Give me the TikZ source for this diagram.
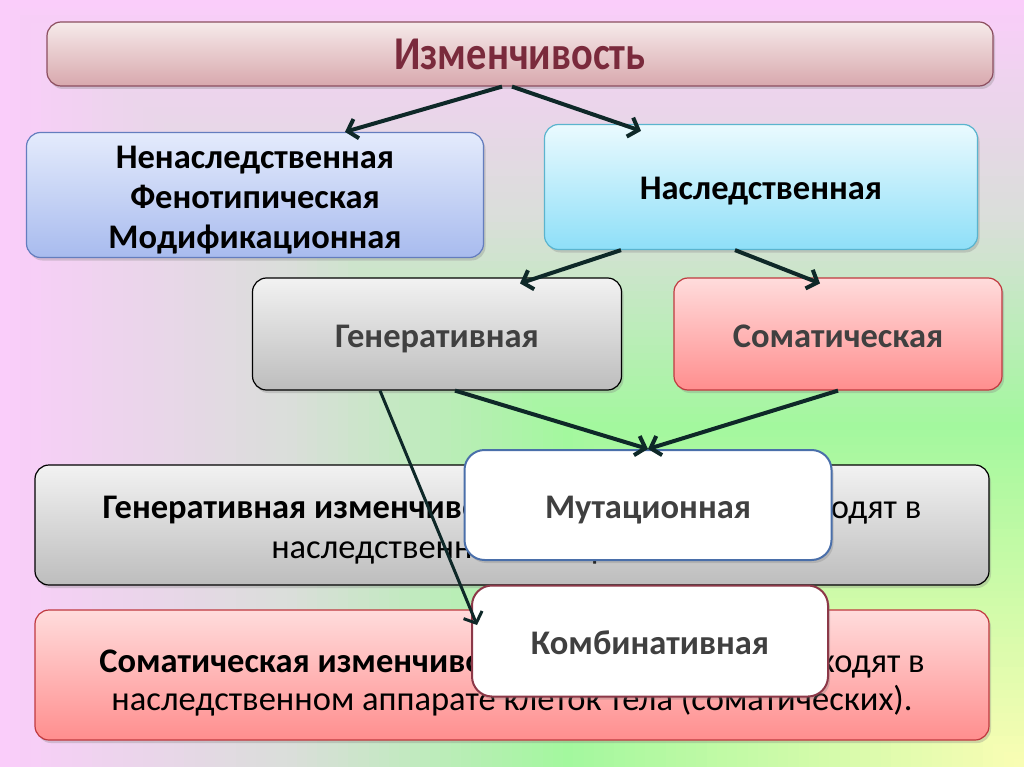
\documentclass[tikz,border=0pt]{standalone}
\usepackage{fontspec}
\setmainfont{Carlito}
\usetikzlibrary{arrows.meta,shadows}

\definecolor{bgpink}{RGB}{250,205,250}
\definecolor{bggray}{RGB}{218,222,218}
\definecolor{bggreen}{RGB}{163,248,158}
\definecolor{bgyellow}{RGB}{250,253,180}
\definecolor{titletop}{RGB}{246,234,234}
\definecolor{titlebot}{RGB}{216,168,173}
\definecolor{titledraw}{RGB}{140,78,95}
\definecolor{titletext}{RGB}{122,42,60}
\definecolor{bluetop}{RGB}{228,235,252}
\definecolor{bluebot}{RGB}{168,187,238}
\definecolor{bluedraw}{RGB}{100,125,190}
\definecolor{cyantop}{RGB}{234,250,254}
\definecolor{cyanbot}{RGB}{142,223,248}
\definecolor{cyandraw}{RGB}{90,180,206}
\definecolor{graytop}{RGB}{242,242,242}
\definecolor{graybot}{RGB}{189,189,189}
\definecolor{redtop}{RGB}{255,220,220}
\definecolor{redbot}{RGB}{255,142,142}
\definecolor{reddraw}{RGB}{192,57,63}
\definecolor{mutdraw}{RGB}{74,111,170}
\definecolor{combdraw}{RGB}{140,56,72}
\definecolor{arrowc}{RGB}{14,40,40}
\definecolor{textgray}{RGB}{64,64,64}

\begin{document}
\begin{tikzpicture}[x=1pt, y=-1pt,
    box/.style = {draw, rounded corners=14pt, line width=1.2pt, inner sep=0pt, align=center,
        drop shadow={opacity=.3, shadow xshift=2pt, shadow yshift=-3pt}},
    lbl/.style = {font=\fontsize{34.5}{40}\selectfont\bfseries},
    one/.style = {text height=26pt, text depth=0pt},
    conn/.style = {draw=arrowc, line width=4pt, -{Straight Barb[length=9pt, width=20pt]}}]
    \useasboundingbox (0,0) rectangle (1024,767);
    % background, from the bottom right corner
    \foreach \i in {100,99,...,1}{
        \pgfmathsetmacro\s{\i/100}
        \ifnum\i>72
            \pgfmathtruncatemacro\p{(\i-72)*100/28}\colorlet{bgc}{bgpink!\p!bggray}
        \else\ifnum\i>45
            \pgfmathtruncatemacro\p{(\i-45)*100/27}\colorlet{bgc}{bggray!\p!bggreen}
        \else
            \pgfmathtruncatemacro\p{\i*100/45}\colorlet{bgc}{bggreen!\p!bgyellow}
        \fi\fi
        \fill[bgc] ({1024*(1-\s)},{767*(1-\s)}) rectangle (1024,767);
    }

    \node[box, draw=titledraw, top color=titletop, bottom color=titlebot,
        minimum width=946pt, minimum height=64pt] (title) at (520,54)
        {\fontsize{47}{47}\selectfont\bfseries\addfontfeature{FakeStretch=0.86}\color{titletext}Изменчивость};
    \node[box, lbl, draw=bluedraw, top color=bluetop, bottom color=bluebot,
        minimum width=457pt, minimum height=125pt] (nonher) at (255,195)
        {\rule{0pt}{32pt}Ненаследственная\\Фенотипическая\\Модификационная};
    \node[box, lbl, one, draw=cyandraw, top color=cyantop, bottom color=cyanbot,
        minimum width=433pt, minimum height=125pt] (her) at (761,187) {Наследственная};
    \node[box, lbl, one, text=textgray, top color=graytop, bottom color=graybot,
        minimum width=369pt, minimum height=112pt] (gen) at (437,334) {Генеративная};
    \node[box, lbl, one, text=textgray, draw=reddraw, top color=redtop, bottom color=redbot,
        minimum width=328pt, minimum height=112pt] (som) at (838,334) {Соматическая};

    \node[box, top color=graytop, bottom color=graybot, font=\fontsize{34.5}{40}\selectfont,
        minimum width=954pt, minimum height=120pt] (gentext) at (512,525)
        {\rule{0pt}{33pt}\textbf{Генеративная изменчивость} – изменения происходят в\\наследственном аппарате гамет.};
    \node[box, draw=reddraw, top color=redtop, bottom color=redbot, font=\fontsize{34.5}{38}\selectfont,
        minimum width=954pt, minimum height=130pt] (somtext) at (512,675)
        {\rule{0pt}{38pt}\textbf{Соматическая изменчивость} – изменения происходят в\\наследственном аппарате клеток тела (соматических).};

    \node[box, lbl, one, text=textgray, draw=mutdraw, fill=white, line width=2pt, rounded corners=20pt,
        minimum width=367pt, minimum height=110pt] (mut) at (648,505) {Мутационная};
    \node[box, lbl, one, text=textgray, draw=combdraw, fill=white, line width=2pt, rounded corners=20pt,
        minimum width=356pt, minimum height=111pt] (comb) at (650,641) {Комбинативная};

    \draw[conn] ([xshift=-18pt]title.south) -- ([xshift=90pt]nonher.north);
    \draw[conn] ([xshift=-8pt]title.south) -- ([xshift=-120pt,yshift=-7pt]her.north);
    \draw[conn] ([xshift=-140pt]her.south) -- ([xshift=83pt,yshift=-6pt]gen.north);
    \draw[conn] ([xshift=-26pt]her.south) -- ([xshift=-18pt,yshift=-6pt]som.north);
    \draw[conn, line width=3pt] ([xshift=-57pt]gen.south) -- ([xshift=6pt,yshift=16pt]comb.west);
    \draw[conn] ([xshift=18pt]gen.south) -- (mut.north);
    \draw[conn] (som.south) -- (mut.north);
\end{tikzpicture}
\end{document}
